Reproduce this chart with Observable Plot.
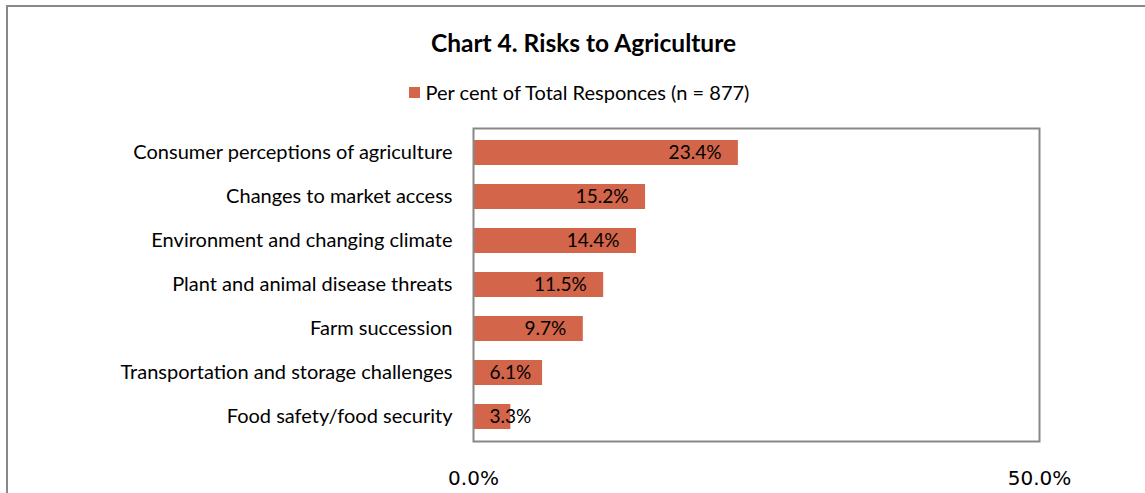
<!DOCTYPE html>
<html>
<head>
<meta charset="utf-8">
<script src="https://cdn.jsdelivr.net/npm/d3@7"></script>
<script src="https://cdn.jsdelivr.net/npm/@observablehq/plot@0.6"></script>
<style>
  html, body { margin: 0; padding: 0; background: #fff; }
  #wrap { position: relative; width: 1145px; height: 493px; overflow: hidden; font-family: Lato, "Open Sans", sans-serif; color: #000; }
  #outer { position: absolute; left: 6px; top: 5px; width: 1300px; height: 700px; border: 2px solid #888; pointer-events: none; }
  #title { height: 62px; box-sizing: border-box; padding-top: 30px; line-height: 26px; text-align: center; font-weight: bold; font-size: 24.5px; padding-left: 22px; }
  #legend { height: 48px; box-sizing: border-box; padding-top: 12px; line-height: 26px; display: flex; justify-content: center; align-items: center; font-size: 20px; padding-left: 13px; }
  #legend .sw { width: 11px; height: 11px; margin-right: 6px; display: inline-block; }
  svg { display: block; }
</style>
</head>
<body>
<div id="wrap">
  <div id="title"></div>
  <div id="legend"></div>
  <div id="chart"></div>
  <div id="outer"></div>
</div>
<script>
const titleText = "Chart 4. Risks to Agriculture";
const seriesName = "Per cent of Total Responces (n = 877)";
const categories = [
  "Consumer perceptions of agriculture",
  "Changes to market access",
  "Environment and changing climate",
  "Plant and animal disease threats",
  "Farm succession",
  "Transportation and storage challenges",
  "Food safety/food security"
];
const values = [23.4, 15.2, 14.4, 11.5, 9.7, 6.1, 3.3];
const xTicks = [0, 50];
const barColor = "#d2654a";

const data = categories.map((c, i) => ({category: c, value: values[i]}));
const fmt = v => v.toFixed(1) + "%";

document.getElementById("title").textContent = titleText;
const lg = document.getElementById("legend");
const sw = document.createElement("span"); sw.className = "sw"; sw.style.background = barColor;
const lt = document.createElement("span"); lt.textContent = seriesName;
lg.appendChild(sw); lg.appendChild(lt);

const W = 1145, mL = 473, mR = 106;
const pxPerUnit = (W - mL - mR) / 50;
// label fits inside-end if bar is wide enough
const fitsInside = d => d.value * pxPerUnit - 17 - fmt(d.value).length * 10.5 >= 16;

const chart = Plot.plot({
  width: W,
  height: 383,
  marginLeft: mL,
  marginRight: mR,
  marginTop: 18,
  marginBottom: 52,
  style: {fontFamily: "Lato, sans-serif", fontSize: "20px", color: "#000", background: "transparent"},
  x: {domain: [0, 50], label: null},
  y: {domain: categories, paddingInner: 0.44, paddingOuter: 0.22, label: null},
  marks: [
    Plot.barX(data, {x: "value", y: "category", fill: barColor}),
    Plot.frame({stroke: "#888", strokeWidth: 2}),
    Plot.text(data.filter(fitsInside), {x: "value", y: "category", text: d => fmt(d.value), textAnchor: "end", dx: -17, fill: "#000", fontSize: 19}),
    Plot.text(data.filter(d => !fitsInside(d)), {x: 0, y: "category", text: d => fmt(d.value), textAnchor: "start", dx: 16, fill: "#000", fontSize: 19}),
    Plot.axisX({ticks: xTicks, tickFormat: fmt, tickSize: 0, tickPadding: 29, fontSize: 20, fontFamily: "DejaVu Sans", label: null}),
    Plot.axisY({tickSize: 0, tickPadding: 21, fontSize: 20, label: null})
  ]
});
document.getElementById("chart").appendChild(chart);
</script>
</body>
</html>
